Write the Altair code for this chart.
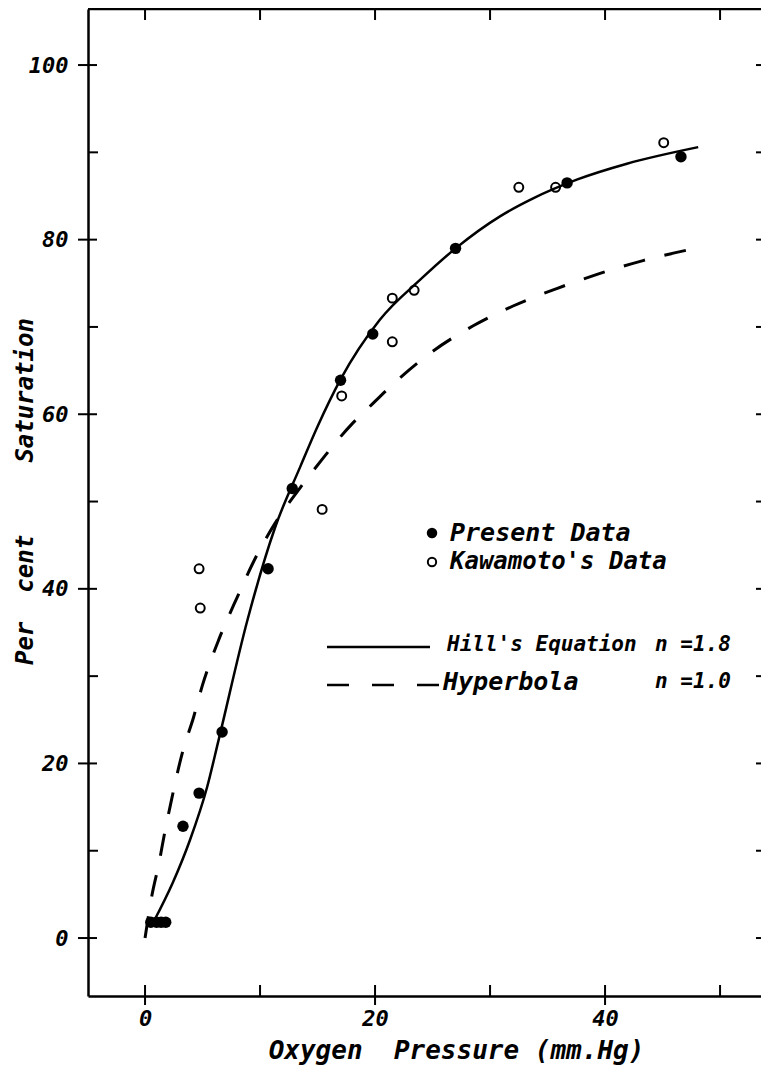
import altair as alt
import pandas as pd

# ---- data ----
present_x = [0.5, 1.0, 1.4, 1.8, 3.3, 4.7, 6.7, 10.7, 12.8, 17.0, 19.8, 27.0, 36.7, 46.6]
present_y = [1.8, 1.8, 1.8, 1.8, 12.8, 16.6, 23.6, 42.3, 51.5, 63.9, 69.2, 79.0, 86.5, 89.5]

kawa_x = [4.7, 4.8, 15.4, 17.1, 21.5, 21.5, 23.4, 32.5, 35.7, 45.1]
kawa_y = [42.3, 37.8, 49.1, 62.1, 68.3, 73.3, 74.2, 86.0, 86.0, 91.1]

hill_x = [0.8, 2.4, 3.9, 5.4, 6.4, 8.9, 11.3, 13.5, 15.0, 17.0, 20.4, 24.0, 27.0, 30.9, 33.7, 37.6, 41.9, 48.1]
hill_y = [2.0, 6.3, 11.2, 17.3, 22.7, 36.4, 47.0, 54.0, 58.6, 64.0, 70.8, 75.5, 79.0, 82.7, 84.7, 86.9, 88.7, 90.6]

hyp_x = [0, 0.6, 1.2, 1.7, 2.2, 3.3, 4.2, 5.0, 6.3, 8.0, 9.7, 11.3, 13.5, 15.5, 18.0, 19.4, 21.6, 25.0, 28.5, 32.0, 35.8, 39.5, 43.3, 48.2]
hyp_y = [0, 4.9, 8.5, 12.0, 15.2, 21.5, 25.2, 29.0, 33.8, 39.0, 43.8, 47.5, 51.6, 55.0, 58.9, 60.7, 63.5, 67.2, 70.1, 72.4, 74.4, 76.1, 77.6, 79.1]

x_major = [0, 20, 40]
x_minor = [10, 30, 50]
x_top = [0, 10, 20, 30, 40, 50]
y_major = [0, 20, 40, 60, 80, 100]
y_minor = [10, 30, 50, 70, 90]
y_right = [0, 10, 20, 30, 40, 50, 60, 70, 80, 90, 100]

# ---- layout / style ----
W, H = 673, 987
FONT = "DejaVu Sans Mono"
xs = alt.Scale(domain=[-4.96, 53.56], nice=False, zero=False)
ys = alt.Scale(domain=[-6.64, 106.42], nice=False, zero=False)

present = pd.DataFrame({"x": present_x, "y": present_y})
kawa = pd.DataFrame({"x": kawa_x, "y": kawa_y})
hill = pd.DataFrame({"x": hill_x, "y": hill_y, "o": range(len(hill_x))})
hyp = pd.DataFrame({"x": hyp_x, "y": hyp_y, "o": range(len(hyp_x))})

xaxis = alt.Axis(values=x_major, format="d", ticks=False, grid=False,
                 domainWidth=2.5, domainColor="black",
                 labelFont=FONT, labelFontStyle="italic", labelFontWeight="bold",
                 labelFontSize=22, labelColor="black", labelPadding=12,
                 title="Oxygen\u00a0\u00a0Pressure (mm.Hg)", titleFont=FONT,
                 titleFontStyle="italic", titleFontWeight="bold", titleFontSize=26,
                 titleColor="black", titleX=368, titleY=54,
                 titleAlign="center", titleBaseline="middle")
yaxis = alt.Axis(values=y_major, format="d", ticks=False, grid=False,
                 domainWidth=2.5, domainColor="black",
                 labelFont=FONT, labelFontStyle="italic", labelFontWeight="bold",
                 labelFontSize=22, labelColor="black", labelPadding=20,
                 title="Per\u00a0\u00a0cent\u00a0\u00a0\u00a0\u00a0\u00a0Saturation", titleFont=FONT,
                 titleFontStyle="italic", titleFontWeight="bold", titleFontSize=24,
                 titleColor="black", titleAngle=270, titleX=-63, titleY=482,
                 titleAlign="center", titleBaseline="middle")

X = alt.X("x:Q", scale=xs, axis=xaxis)
Y = alt.Y("y:Q", scale=ys, axis=yaxis)

hill_line = alt.Chart(hill).mark_line(color="black", strokeWidth=2.5, interpolate="monotone").encode(
    x=X, y=Y, order="o:Q")

hyp_line = alt.Chart(hyp).mark_line(color="black", strokeWidth=3, strokeDash=[22, 20],
                                    interpolate="monotone").encode(x=X, y=Y, order="o:Q")

pres_pts = alt.Chart(present).mark_circle(color="black", size=130, opacity=1).encode(x=X, y=Y)

kawa_pts = alt.Chart(kawa).mark_point(shape="circle", filled=False, color="black",
                                      size=80, strokeWidth=2, opacity=1).encode(x=X, y=Y)

# ---- ticks and frame ----
def xticks(vals, y0, y1):
    return alt.Chart(pd.DataFrame({"x": vals})).mark_rule(color="black", strokeWidth=2).encode(
        x=X, y=alt.value(y0), y2=alt.value(y1))

def yticks(vals, x0, x1):
    return alt.Chart(pd.DataFrame({"y": vals})).mark_rule(color="black", strokeWidth=2).encode(
        y=Y, x=alt.value(x0), x2=alt.value(x1))

ticks = [
    xticks(x_major, H - 11, H + 9),
    xticks(x_minor, H - 11, H),
    xticks(x_top, 0, 11),
    yticks(y_major, -10, 9),
    yticks(y_minor, 0, 10),
    yticks(y_right, W - 5, W),
]
top_frame = alt.Chart(pd.DataFrame({"a": [0]})).mark_rule(color="black", strokeWidth=2.5).encode(
    x=alt.value(0), x2=alt.value(W), y=alt.value(0))

# ---- legend ----
def txt(s, x, y, size):
    return alt.Chart(pd.DataFrame({"a": [0]})).mark_text(
        text=s, font=FONT, fontStyle="italic", fontWeight="bold", fontSize=size, color="black",
        align="left", baseline="middle").encode(x=alt.value(x), y=alt.value(y))

leg_fill = alt.Chart(pd.DataFrame({"a": [0]})).mark_circle(color="black", size=110, opacity=1).encode(
    x=alt.value(344), y=alt.value(524))
leg_open = alt.Chart(pd.DataFrame({"a": [0]})).mark_point(shape="circle", filled=False, color="black",
                                                          size=70, strokeWidth=2, opacity=1).encode(
    x=alt.value(344), y=alt.value(553))
leg_solid = alt.Chart(pd.DataFrame({"a": [0]})).mark_rule(color="black", strokeWidth=2.5).encode(
    x=alt.value(239), x2=alt.value(342), y=alt.value(638))
leg_dash = alt.Chart(pd.DataFrame({"a": [0]})).mark_rule(color="black", strokeWidth=2.5,
                                                        strokeDash=[22, 23]).encode(
    x=alt.value(239), x2=alt.value(352), y=alt.value(676))

legend = [
    leg_fill, leg_open, leg_solid, leg_dash,
    txt("Present Data", 362, 524, 25),
    txt("Kawamoto's Data", 362, 553, 24),
    txt("Hill's Equation", 359, 636, 21),
    txt("n =1.8", 567, 636, 21),
    txt("Hyperbola", 355, 673, 25),
    txt("n =1.0", 567, 673, 21),
]

chart = alt.layer(hill_line, hyp_line, pres_pts, kawa_pts, top_frame, *ticks, *legend).properties(
    width=W, height=H,
    autosize=alt.AutoSizeParams(type="none"),
    padding={"left": 80, "top": 1, "right": 0, "bottom": 75},
).configure_view(stroke=None)

chart.save("out.html", embed_options={"renderer": "svg", "actions": False})
